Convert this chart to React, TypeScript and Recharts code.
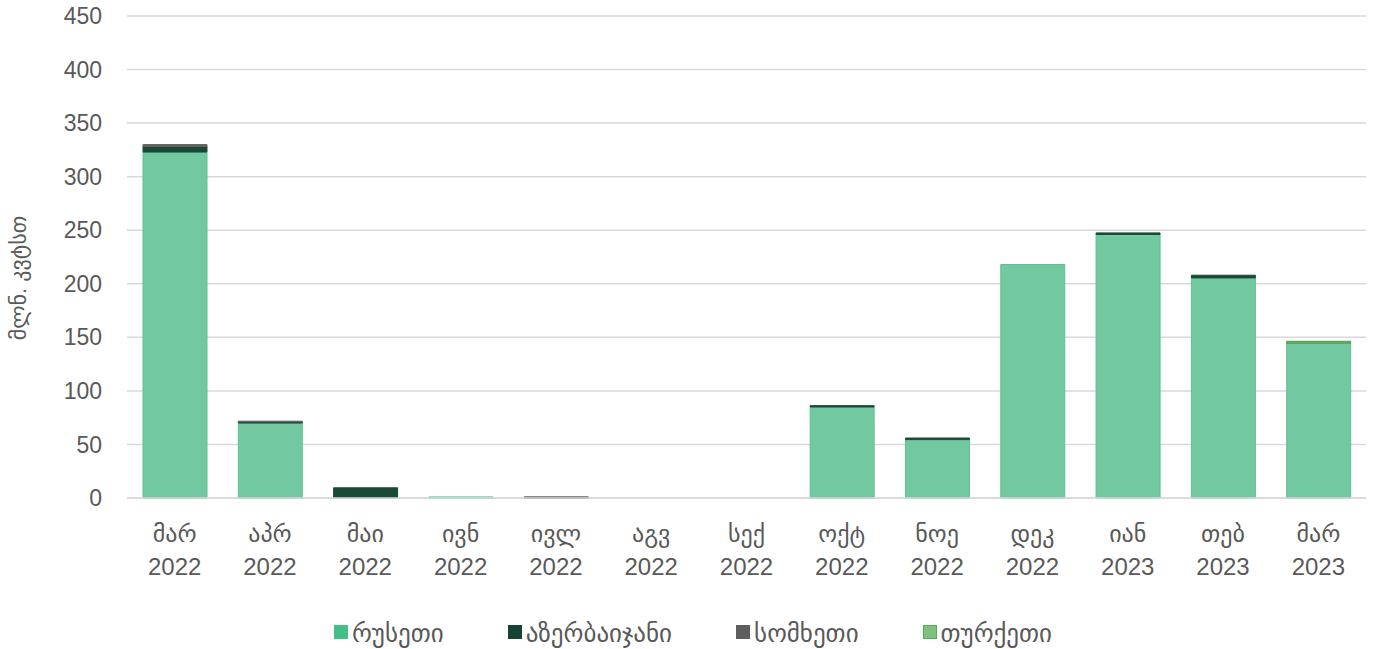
import { BarChart, Bar, XAxis, YAxis, CartesianGrid, Legend } from "recharts";

// monthly electricity imports by source country, million kWh
const months = ["მარ", "აპრ", "მაი", "ივნ", "ივლ", "აგვ", "სექ", "ოქტ", "ნოე", "დეკ", "იან", "თებ", "მარ"];
const years = ["2022", "2022", "2022", "2022", "2022", "2022", "2022", "2022", "2022", "2022", "2023", "2023", "2023"];

const russia = [323, 70, 0.5, 1, 0, 0, 0, 85, 54.5, 218, 246, 205.5, 144.5];
const azerbaijan = [5.5, 1.2, 9, 0, 0.3, 0, 0, 1.2, 1.5, 0, 1.5, 2.5, 0];
const armenia = [1.5, 0.5, 0, 0, 0.8, 0, 0, 0, 0, 0, 0, 0, 0];
const turkey = [0, 0, 0, 0, 0, 0, 0, 0, 0, 0, 0, 0, 1.8];

const yTicks = [0, 50, 100, 150, 200, 250, 300, 350, 400, 450];

const data = months.map((m, i) => ({
  key: i,
  month: m,
  year: years[i],
  russia: russia[i],
  azerbaijan: azerbaijan[i],
  armenia: armenia[i],
  turkey: turkey[i],
}));

const series = [
  { key: "russia", name: "რუსეთი", fill: "#72C8A0", stroke: "#5EC292", swatch: "#45BE88", border: "#45BE88" },
  { key: "azerbaijan", name: "აზერბაიჯანი", fill: "#1A4A35", stroke: "#1A4A35", swatch: "#164430", border: "#164430" },
  { key: "armenia", name: "სომხეთი", fill: "#666666", stroke: "#666666", swatch: "#5F5F5F", border: "#5F5F5F" },
  { key: "turkey", name: "თურქეთი", fill: "#62AD62", stroke: "#4FA050", swatch: "#80C080", border: "#4CAF50" },
];

const textColor = "#595959";
const font = "'Liberation Sans', Arial, 'DejaVu Sans', sans-serif";

const MonthTick = (props: any) => {
  const { x, y, payload } = props;
  const d = data[payload.value];
  return (
    <text x={x} y={y} textAnchor="middle" fill={textColor} fontSize={24} fontFamily={font}>
      <tspan x={x} dy={42}>{d.month}</tspan>
      <tspan x={x} dy={33}>{d.year}</tspan>
    </text>
  );
};

const UnitLabel = () => (
  <text
    transform="translate(26, 278) rotate(-90)"
    textAnchor="middle"
    fill={textColor}
    fontSize={22}
    fontFamily={font}
  >
    მლნ. კვტსთ
  </text>
);

const LegendContent = () => (
  <div
    style={{
      display: "flex",
      justifyContent: "center",
      gap: 64,
      paddingTop: 13,
      paddingLeft: 20,
      fontFamily: font,
      fontSize: 25,
      color: textColor,
    }}
  >
    {series.map((s) => (
      <div key={s.key} style={{ display: "flex", alignItems: "center" }}>
        <span
          style={{
            display: "inline-block",
            width: 12,
            height: 12,
            background: s.swatch,
            border: `1.5px solid ${s.border}`,
            marginRight: 4,
            marginTop: -4,
          }}
        />
        <span>{s.name}</span>
      </div>
    ))}
  </div>
);

export default function App() {
  return (
    <div style={{ position: "absolute", left: 0, top: 0, background: "#fff" }}>
      <BarChart
        width={1378}
        height={649}
        data={data}
        margin={{ top: 16, right: 12, left: 0, bottom: 0 }}
        barSize={64}
      >
        <CartesianGrid vertical={false} stroke="#d9d9d9" strokeWidth={1.5} />
        <XAxis
          dataKey="key"
          tick={<MonthTick />}
          tickLine={false}
          axisLine={{ stroke: "#d9d9d9", strokeWidth: 1.5 }}
          tickSize={0}
          height={108}
          interval={0}
        />
        <YAxis
          domain={[0, 450]}
          ticks={yTicks}
          width={127}
          tickLine={false}
          axisLine={false}
          tickSize={0}
          tickMargin={25}
          tick={{ fill: textColor, fontSize: 23, fontFamily: font }}
          label={{ content: <UnitLabel /> }}
        />
        <Legend verticalAlign="bottom" height={43} content={<LegendContent />} />
        {series.map((s) => (
          <Bar
            key={s.key}
            dataKey={s.key}
            name={s.name}
            stackId="a"
            fill={s.fill}
            stroke={s.stroke}
            strokeWidth={1}
            isAnimationActive={false}
          />
        ))}
      </BarChart>
    </div>
  );
}
